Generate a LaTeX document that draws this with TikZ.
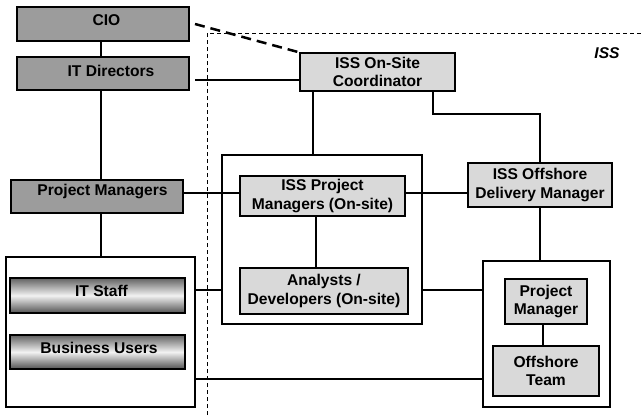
\documentclass[tikz,border=0pt]{standalone}
\usepackage{fontspec}
\setmainfont{Liberation Sans}
\usetikzlibrary{calc}
\definecolor{darkfill}{HTML}{9C9C9C}
\definecolor{lightfill}{HTML}{D9D9D9}

\begin{document}
\begin{tikzpicture}[x=1pt,y=-1pt,
  txt/.style={font=\fontsize{15.6}{18.5}\selectfont\bfseries, align=center, inner sep=0pt},
  boxbase/.style={draw=black, line width=1.2pt, inner sep=0pt, rectangle, txt},
  darkbox/.style={boxbase, fill=darkfill},
  lightbox/.style={boxbase, fill=lightfill},
  frame/.style={boxbase, fill=white},
  bar/.style={boxbase, line width=1.4pt, top color=black!62, bottom color=black!68, middle color=black!5},
  conn/.style={line width=2pt},
  linkdash/.style={line width=2.5pt, dash pattern=on 10pt off 6pt},
  boundary/.style={line width=1pt, dash pattern=on 4pt off 3pt}
]
\useasboundingbox (0,0) rectangle (641,415);

% ISS boundary
\coordinate (iss-bot) at (207,415);
\coordinate (iss-corner) at (207,33);
\coordinate (iss-right) at (641,33);
\draw[boundary] (iss-bot) -- (iss-corner) -- (iss-right);
\node[txt, font=\fontsize{15.6}{18.5}\selectfont\bfseries\itshape] (iss-label) at (607,53) {ISS};

% client side
\node[darkbox, minimum width=172pt, minimum height=34pt,
      label={[txt, shift={(3.5,-4)}]center:CIO}] (cio) at (103,24) {};
\node[darkbox, minimum width=172pt, minimum height=33pt,
      label={[txt, shift={(8,-3)}]center:IT Directors}] (itd) at (103,73.5) {};
\node[darkbox, minimum width=172pt, minimum height=33pt,
      label={[txt, shift={(5.5,-5)}]center:Project Managers}] (pm) at (97,196.5) {};
\node[frame, minimum width=189pt, minimum height=150pt] (client) at (100.5,332) {};
\node[bar, minimum width=175pt, minimum height=35pt,
      label={[txt, shift={(4,-4.5)}]center:IT Staff}] (itstaff) at (97.5,295.5) {};
\node[bar, minimum width=175pt, minimum height=34pt,
      label={[txt, shift={(1.5,-4.5)}]center:Business Users}] (bususers) at (97.5,352) {};

% ISS side
\node[lightbox, minimum width=155pt, minimum height=38pt] (coord) at (377.5,72) {ISS On-Site\\Coordinator};
\node[frame, minimum width=200pt, minimum height=169pt] (isspmc) at (322,239.5) {};
\node[lightbox, minimum width=165pt, minimum height=40pt] (isspm) at (322.5,196) {ISS Project\\Managers (On-site)};
\node[lightbox, minimum width=168pt, minimum height=46pt] (analysts) at (324,291) {Analysts /\\Developers (On-site)};
\node[lightbox, minimum width=144pt, minimum height=44pt] (odm) at (540,185) {ISS Offshore\\Delivery Manager};
\node[frame, minimum width=127pt, minimum height=146pt] (offc) at (546.5,334) {};
\node[lightbox, minimum width=82pt, minimum height=45pt] (opm) at (546,301.5) {Project\\Manager};
\node[lightbox, minimum width=106pt, minimum height=50pt] (oteam) at (546,371) {Offshore\\Team};

% connectors
\coordinate (cio-r) at (195,24);
\draw[linkdash] (cio-r) -- (coord.north west);
\draw[conn] ([xshift=-2pt]cio.south) -- ([xshift=-2pt]cio.south |- itd.north);
\coordinate (itd-r) at (195,80);
\draw[conn] (itd-r) -- (itd-r -| coord.west);
\path ([xshift=-2pt]itd.south) coordinate (itd-b);
\draw[conn] (itd-b) -- (itd-b |- pm.north);
\path ([xshift=4pt]pm.south) coordinate (pm-b);
\draw[conn] (pm-b) -- (pm-b |- client.north);
\path ([yshift=3.5pt]pm.east) coordinate (pm-r);
\draw[conn] (pm-r) -- (pm-r -| isspm.west);
\path ([yshift=3pt]isspm.east) coordinate (isspm-r);
\draw[conn] (isspm-r) -- (isspm-r -| odm.west);
\path ([xshift=-64.5pt]coord.south) coordinate (coord-b1);
\draw[conn] (coord-b1) -- (coord-b1 |- isspmc.north);
\path ([xshift=55.5pt]coord.south) coordinate (coord-b2);
\draw[conn] (coord-b2) -- ++(0,22) -| (odm.north);
\path ([xshift=-6.5pt]isspm.south) coordinate (isspm-b);
\draw[conn] (isspm-b) -- (isspm-b |- analysts.north);
\path ([yshift=42pt]client.east) coordinate (client-r1);
\draw[conn] (client-r1) -- (client-r1 -| isspmc.west);
\path ([yshift=-50.5pt]isspmc.east) coordinate (isspmc-r);
\draw[conn] (isspmc-r) -- (isspmc-r -| offc.west);
\path ([yshift=-47pt]client.east) coordinate (client-r2);
\draw[conn] (client-r2) -- (client-r2 -| offc.west);
\draw[conn] (odm.south) -- (odm.south |- offc.north);
\path ([xshift=-3pt]opm.south) coordinate (opm-b);
\draw[conn] (opm-b) -- (opm-b |- oteam.north);
\end{tikzpicture}
\end{document}
